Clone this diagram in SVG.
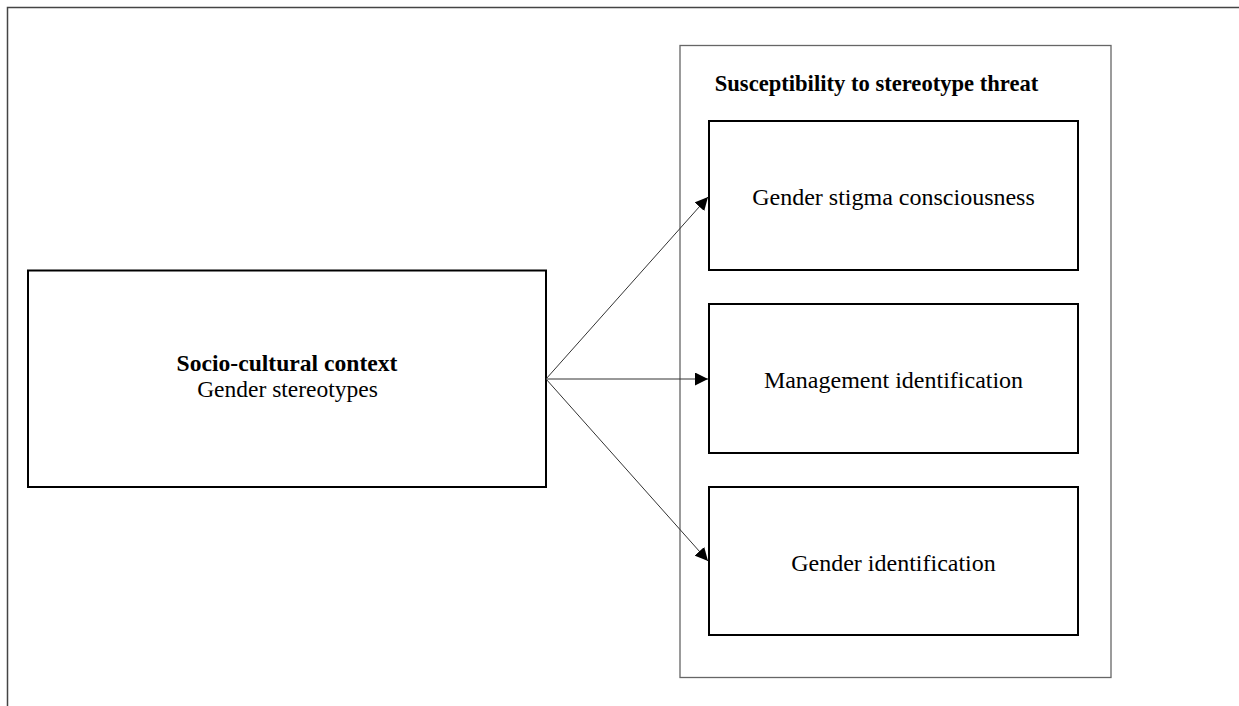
<svg xmlns="http://www.w3.org/2000/svg" width="1239" height="706" viewBox="0 0 1239 706">
<style>
.t{font-family:"Liberation Serif","Times New Roman",serif;font-size:24px;fill:#000;text-anchor:middle}
.b{font-weight:bold}
.box{fill:#fff;stroke:#000;stroke-width:2}
.outer{fill:#fff;stroke:#666;stroke-width:1.3}
.c{stroke:#333;stroke-width:1;fill:none}
</style>
<defs>
<marker id="ah" viewBox="0 0 10 10" refX="10" refY="5" markerWidth="13" markerHeight="13" markerUnits="userSpaceOnUse" orient="auto">
<path d="M0,0 L10,5 L0,10 z" fill="#000"/>
</marker>
</defs>
<g id="frame">
<path d="M7.5,706 V7.5 H1239" fill="none" stroke="#444" stroke-width="1.5"/>
</g>
<g id="container">
<rect class="outer" x="680" y="45.5" width="431" height="632"/>
<text class="t b" x="876.5" y="91" style="font-size:22.6px">Susceptibility to stereotype threat</text>
</g>
<g id="context">
<rect class="box" x="28" y="270.5" width="518" height="216.5"/>
<text class="t b" x="287" y="371" style="font-size:23.6px">Socio-cultural context</text>
<text class="t" x="287.5" y="397" style="font-size:23.5px">Gender stereotypes</text>
</g>
<g id="stigma">
<rect class="box" x="709" y="121" width="369" height="149"/>
<text class="t" x="893.5" y="205">Gender stigma consciousness</text>
</g>
<g id="management">
<rect class="box" x="709" y="304" width="369" height="149"/>
<text class="t" x="893.5" y="388">Management identification</text>
</g>
<g id="genderid">
<rect class="box" x="709" y="487" width="369" height="148"/>
<text class="t" x="893.5" y="571">Gender identification</text>
</g>
<g id="connectors">
<line class="c" x1="546" y1="379" x2="708" y2="197" marker-end="url(#ah)"/>
<line class="c" x1="546" y1="379" x2="708" y2="379" marker-end="url(#ah)"/>
<line class="c" x1="546" y1="379" x2="708" y2="561" marker-end="url(#ah)"/>
</g>
</svg>
